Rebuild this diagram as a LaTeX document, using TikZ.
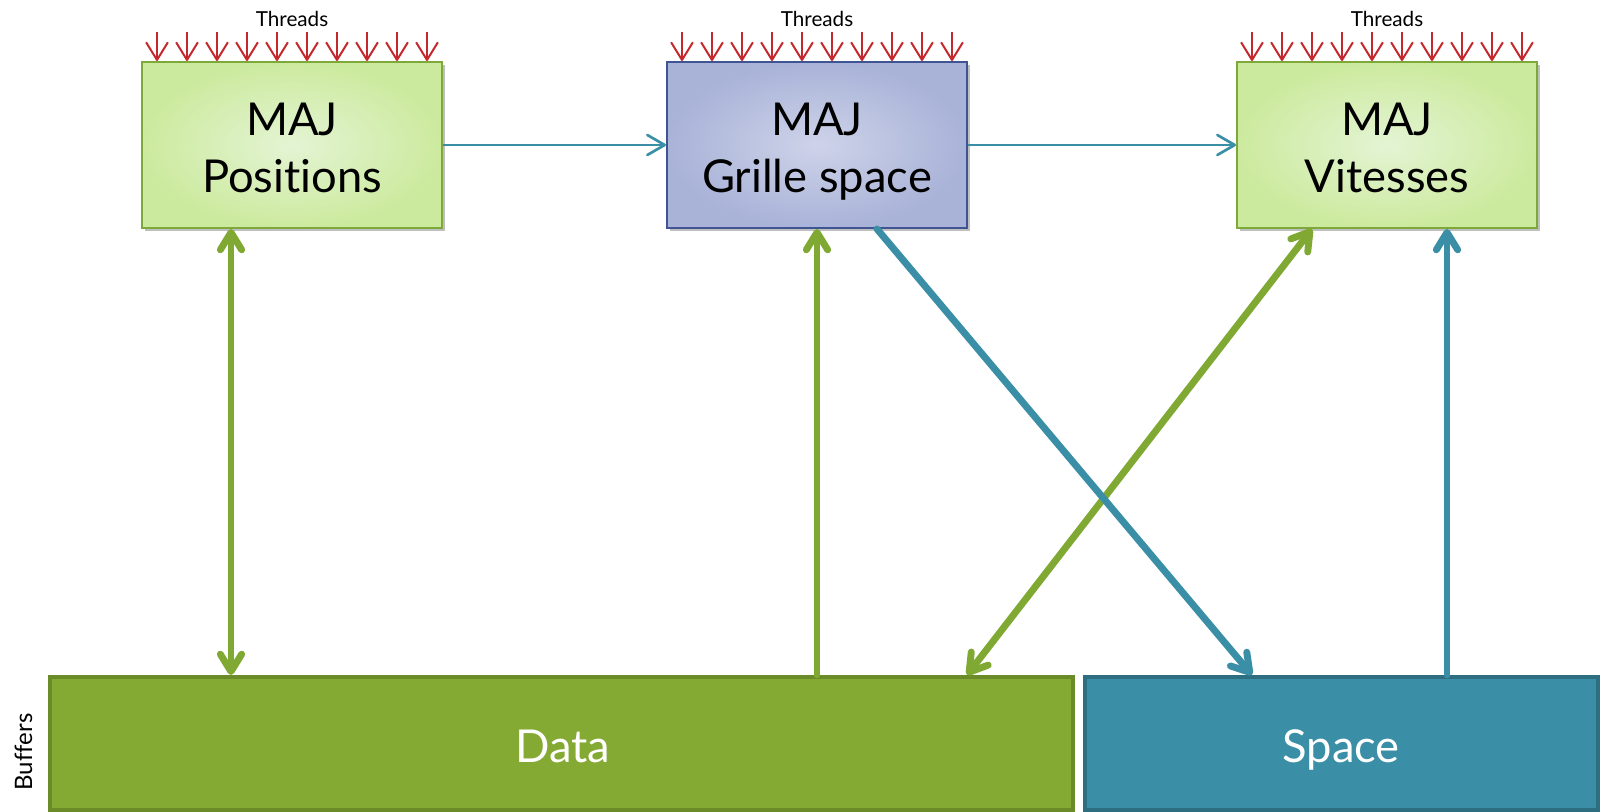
\documentclass[tikz,border=0pt]{standalone}
\usepackage{fontspec}
\setmainfont{Lato}[Ligatures={NoCommon}]
\usetikzlibrary{arrows.meta,shadows}

% one unit of the drawing grid
\newlength\pxu
\setlength\pxu{0.75pt}

\definecolor{stgreenin}{HTML}{E4F4D4}
\definecolor{stgreenout}{HTML}{CCEA9E}
\definecolor{stgreenline}{HTML}{7FA83A}
\definecolor{stbluein}{HTML}{CED3E9}
\definecolor{stblueout}{HTML}{A9B3D8}
\definecolor{stblueline}{HTML}{3F5493}
\definecolor{datafill}{HTML}{84AA33}
\definecolor{dataline}{HTML}{6A8B27}
\definecolor{spacefill}{HTML}{3A8FA6}
\definecolor{spaceline}{HTML}{2D6E80}
\definecolor{threadred}{HTML}{C4282C}
\definecolor{flowgreen}{HTML}{80A934}
\definecolor{flowblue}{HTML}{3A8FA6}

\tikzset{
  stage/.style={rectangle, inner sep=0pt, minimum width=300\pxu, minimum height=166\pxu,
    line width=1.5pt,
    drop shadow={shadow xshift=2pt, shadow yshift=-2.5pt, opacity=0.25, fill=black}},
  greenstage/.style={stage, draw=stgreenline, inner color=stgreenin, outer color=stgreenout},
  bluestage/.style={stage, draw=stblueline, inner color=stbluein, outer color=stblueout},
  buffer/.style={rectangle, inner sep=0pt, minimum height=133\pxu, line width=3pt},
  bigtext/.style={anchor=base, inner sep=0pt, font=\fontsize{34}{40}\selectfont},
  smalltext/.style={anchor=base, inner sep=0pt, font=\fontsize{15.5}{18}\selectfont},
  thread/.style={draw=threadred, line width=1.5pt,
    -{Straight Barb[length=13pt, width=16pt, round]}},
  seqarrow/.style={draw=flowblue, line width=2pt,
    -{Straight Barb[length=13pt, width=15pt, round]}},
  fat/.style={line width=5.2pt, line cap=round},
  fathead/.tip={Straight Barb[length=13pt, width=16pt, round]},
}

\begin{document}
\begin{tikzpicture}[x=0.75pt, y=-0.75pt]
\useasboundingbox (0,0) rectangle (1604,812);

% ---- buffers ----
\node[buffer, minimum width=1023\pxu, fill=datafill, draw=dataline] (data) at (561.5,743.5) {};
\node[buffer, minimum width=513\pxu, fill=spacefill, draw=spaceline] (space) at (1341.5,743.5) {};
\node[bigtext, text=white] (datalbl) at (563,763) {Data};
\node[bigtext, text=white] (spacelbl) at (1341,763) {Space};
\node[anchor=base, inner sep=0pt, rotate=90, font=\fontsize{18}{20}\selectfont] (buflbl) at (32,752) {Buffers};

% ---- update stages ----
\node[greenstage] (pos) at (292,145) {};
\node[bluestage] (grid) at (817,145) {};
\node[greenstage] (vel) at (1387,145) {};

\node[bigtext] (posA) at (292,136) {MAJ};
\node[bigtext] (posB) at (292,193) {Positions};
\node[bigtext] (gridA) at (817,136) {MAJ};
\node[bigtext] (gridB) at (817,193) {Grille space};
\node[bigtext] (velA) at (1387,136) {MAJ};
\node[bigtext] (velB) at (1387,193) {Vitesses};

% ---- threads feeding each stage ----
\foreach \s in {pos,grid,vel}{
  \node[smalltext] (\s thr) at (\s.north |- 0,27) {Threads};
  \foreach \i in {0,...,9}{
    \draw[thread] ([xshift={(30*\i-135)*\pxu}, yshift=29\pxu]\s.north)
               -- ([xshift={(30*\i-135)*\pxu}]\s.north);
  }
}

% ---- sequence of stages ----
\draw[seqarrow] (pos.east) -- (grid.west);
\draw[seqarrow] (grid.east) -- (vel.west);

% ---- buffer accesses ----
\draw[fat, draw=flowgreen, fathead-fathead]
  ([xshift=-61\pxu]pos.south) -- ([xshift=-61\pxu]pos.south |- data.north);
\draw[fat, draw=flowgreen, -fathead]
  (grid.south |- data.north) -- (grid.south);
\draw[fat, draw=flowgreen, fathead-fathead]
  ([xshift=-75\pxu]vel.south) -- ([xshift=405.5\pxu]data.north);
\draw[fat, draw=flowblue, -fathead]
  ([xshift=60\pxu]grid.south) -- ([xshift=-89.5\pxu]space.north);
\draw[fat, draw=flowblue, -fathead]
  ([xshift=60\pxu]vel.south |- space.north) -- ([xshift=60\pxu]vel.south);
\end{tikzpicture}
\end{document}
